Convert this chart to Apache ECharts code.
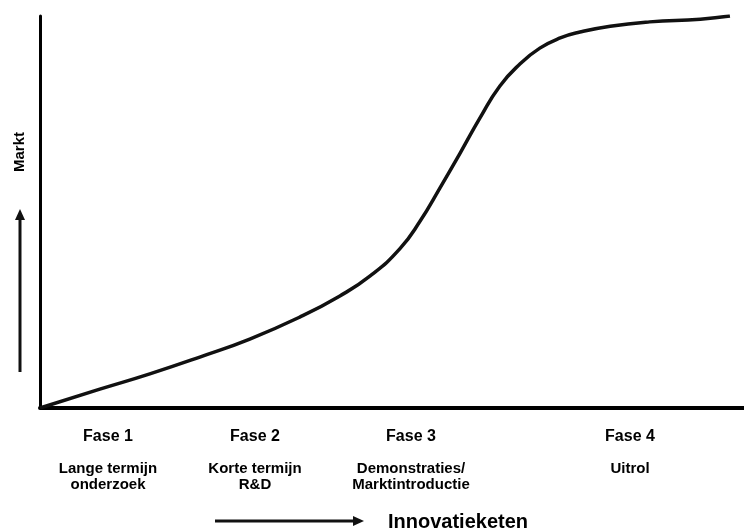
<!DOCTYPE html>
<html>
<head>
<meta charset="utf-8">
<script src="https://cdn.jsdelivr.net/npm/echarts@6/dist/echarts.min.js"></script>
<style>html,body{margin:0;padding:0;background:#fff}#c{width:744px;height:532px}</style>
</head>
<body>
<div id="c"></div>
<script>
// S-curve: innovation chain position (x) vs market (y), in percent of axis range
const xValues = [0, 8.5, 15.6, 22.7, 29.8, 36.9, 42.6, 46.9, 51.1, 54.0, 56.8, 59.7, 62.5, 65.3, 68.2, 71.0, 73.9, 76.7, 81.0, 86.6, 93.8, 98.0];
const yValues = [0, 4.8, 8.7, 13.0, 17.6, 23.2, 28.6, 33.7, 40.6, 47.7, 56.1, 65.1, 74.0, 82.1, 87.8, 91.8, 94.4, 95.9, 97.4, 98.5, 99.2, 100];
const phaseTitles = ['Fase 1', 'Fase 2', 'Fase 3', 'Fase 4'];
const phaseDescriptions = ['Lange termijn\nonderzoek', 'Korte termijn\nR&D', 'Demonstraties/\nMarktintroductie', 'Uitrol'];
const phaseCenters = [108, 255, 411, 630];
const yAxisTitle = 'Markt';
const xAxisTitle = 'Innovatieketen';

const chart = echarts.init(document.getElementById('c'));
const font = '"Liberation Sans", Arial, sans-serif';
const graphics = [];
phaseTitles.forEach((t, i) => {
  graphics.push({type: 'text', x: phaseCenters[i], y: 437, style: {text: t, font: 'bold 16px ' + font, fill: '#000', textAlign: 'center', textVerticalAlign: 'middle'}});
  graphics.push({type: 'text', x: phaseCenters[i], y: 461, style: {text: phaseDescriptions[i], font: 'bold 15px ' + font, fill: '#000', textAlign: 'center', textVerticalAlign: 'top', lineHeight: 16}});
});
chart.setOption({
  animation: false,
  backgroundColor: '#fff',
  grid: {left: 40, right: 0, top: 16, bottom: 124},
  xAxis: {type: 'value', min: 0, max: 100, axisLine: {show: true, lineStyle: {color: '#000', width: 4}}, axisTick: {show: false}, axisLabel: {show: false}, splitLine: {show: false}},
  yAxis: {type: 'value', min: 0, max: 100, axisLine: {show: true, lineStyle: {color: '#000', width: 3}}, axisTick: {show: false}, axisLabel: {show: false}, splitLine: {show: false}},
  series: [{
    type: 'line', smooth: 0.5, showSymbol: false,
    data: xValues.map((x, i) => [x, yValues[i]]),
    lineStyle: {color: '#111', width: 3.5}
  }],
  graphic: graphics.concat([
    {type: 'text', x: 20, y: 152, rotation: Math.PI / 2, style: {text: yAxisTitle, font: 'bold 15px "Liberation Sans Narrow", ' + font, fill: '#000', textAlign: 'center', textVerticalAlign: 'middle'}},
    {type: 'line', shape: {x1: 20, y1: 372, x2: 20, y2: 218}, style: {stroke: '#111', lineWidth: 3}},
    {type: 'polygon', shape: {points: [[15, 220], [25, 220], [20, 209]]}, style: {fill: '#111'}},
    {type: 'line', shape: {x1: 215, y1: 521, x2: 355, y2: 521}, style: {stroke: '#111', lineWidth: 3}},
    {type: 'polygon', shape: {points: [[353, 516], [353, 526], [364, 521]]}, style: {fill: '#111'}},
    {type: 'text', x: 388, y: 522, style: {text: xAxisTitle, font: 'bold 20px "Liberation Sans Narrow", ' + font, fill: '#000', textAlign: 'left', textVerticalAlign: 'middle'}}
  ])
});
</script>
</body>
</html>
